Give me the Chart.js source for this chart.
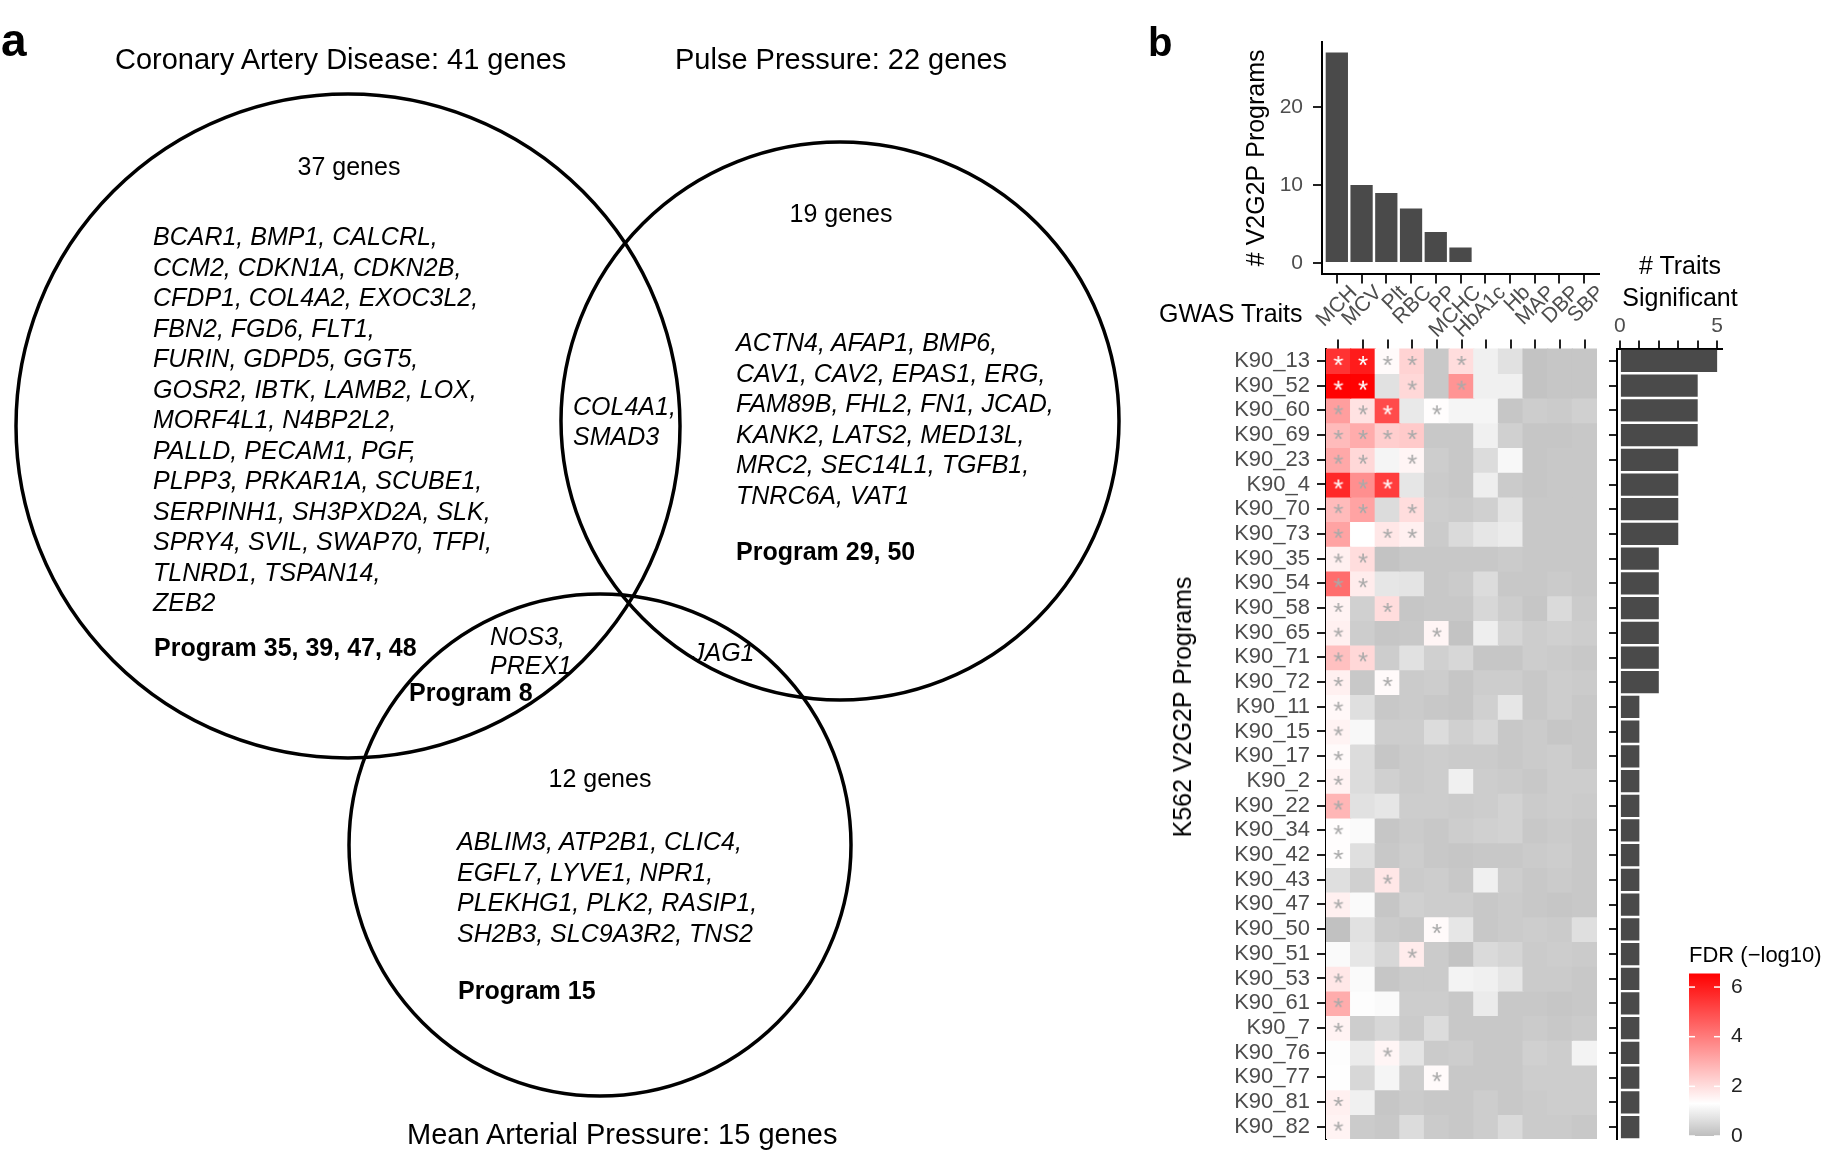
<!DOCTYPE html>
<html>
<head>
<meta charset="utf-8">
<script src="https://cdn.jsdelivr.net/npm/chart.js@4.4.1/dist/chart.umd.min.js"></script>
<style>
html,body{margin:0;padding:0;background:#fff;}
body{width:1824px;height:1156px;position:relative;overflow:hidden;font-family:'Liberation Sans',Arial,sans-serif;color:#000;}
.t{position:absolute;white-space:pre;}
.c{position:absolute;}
</style>
</head>
<body>
<canvas id="venn" class="c" width="1150" height="1156" style="left:0;top:0;width:1150px;height:1156px"></canvas>
<canvas id="topBar" class="c" width="380" height="310" style="left:1238px;top:30px;width:380px;height:310px"></canvas>
<canvas id="heat" class="c" width="445" height="820" style="left:1163px;top:330px;width:445px;height:820px"></canvas>
<canvas id="sideBar" class="c" width="140" height="850" style="left:1600px;top:300px;width:140px;height:850px"></canvas>
<canvas id="legendBar" class="c" width="135" height="217" style="left:1689px;top:939px;width:135px;height:217px"></canvas>
<script>
// ---------------- DATA ----------------
const vennSets = ['Coronary Artery Disease', 'Pulse Pressure', 'Mean Arterial Pressure'];
const vennSetSizes = [41, 22, 15];
const vennUniqueCounts = [37, 19, 12];
const cadOnlyGenes = [
  'BCAR1, BMP1, CALCRL,', 'CCM2, CDKN1A, CDKN2B,', 'CFDP1, COL4A2, EXOC3L2,',
  'FBN2, FGD6, FLT1,', 'FURIN, GDPD5, GGT5,', 'GOSR2, IBTK, LAMB2, LOX,',
  'MORF4L1, N4BP2L2,', 'PALLD, PECAM1, PGF,', 'PLPP3, PRKAR1A, SCUBE1,',
  'SERPINH1, SH3PXD2A, SLK,', 'SPRY4, SVIL, SWAP70, TFPI,', 'TLNRD1, TSPAN14,', 'ZEB2'
];
const ppOnlyGenes = [
  'ACTN4, AFAP1, BMP6,', 'CAV1, CAV2, EPAS1, ERG,', 'FAM89B, FHL2, FN1, JCAD,',
  'KANK2, LATS2, MED13L,', 'MRC2, SEC14L1, TGFB1,', 'TNRC6A, VAT1'
];
const mapOnlyGenes = [
  'ABLIM3, ATP2B1, CLIC4,', 'EGFL7, LYVE1, NPR1,', 'PLEKHG1, PLK2, RASIP1,', 'SH2B3, SLC9A3R2, TNS2'
];
const cadPpGenes = ['COL4A1,', 'SMAD3'];
const cadMapGenes = ['NOS3,', 'PREX1'];
const ppMapGenes = ['JAG1'];
const cadPrograms = 'Program 35, 39, 47, 48';
const ppPrograms = 'Program 29, 50';
const mapPrograms = 'Program 15';
const cadMapPrograms = 'Program 8';

const traits = ['MCH','MCV','Plt','RBC','PP','MCHC','HbA1c','Hb','MAP','DBP','SBP'];
const programCounts = [27, 10, 9, 7, 4, 2, 0, 0, 0, 0, 0];
const topTicks = [0, 10, 20];
const programs = ['K90_13','K90_52','K90_60','K90_69','K90_23','K90_4','K90_70','K90_73','K90_35','K90_54',
  'K90_58','K90_65','K90_71','K90_72','K90_11','K90_15','K90_17','K90_2','K90_22','K90_34','K90_42',
  'K90_43','K90_47','K90_50','K90_51','K90_53','K90_61','K90_7','K90_76','K90_77','K90_81','K90_82'];
const traitsSignificant = [5,4,4,4,3,3,3,3,2,2,2,2,2,2,1,1,1,1,1,1,1,1,1,1,1,1,1,1,1,1,1,1];
const sideTicks = [0, 1, 2, 3, 4, 5];
const sideTickLabels = [0, 5];
// FDR (-log10) per program (rows) x trait (columns)
const fdr = [
  [5.5, 6.0, 1.4, 2.2, 0.2, 2.0, 1.0, 0.7, 0.1, 0.15, 0.15],
  [6.5, 6.5, 0.7, 2.1, 0.2, 3.5, 1.0, 1.0, 0.1, 0.15, 0.15],
  [3.3, 1.9, 5.0, 0.85, 1.35, 1.1, 1.1, 0.15, 0.3, 0.25, 0.35],
  [2.7, 3.0, 2.3, 2.4, 0.2, 0.2, 1.0, 0.35, 0.15, 0.15, 0.2],
  [3.1, 2.1, 1.1, 1.5, 0.3, 0.2, 0.6, 1.15, 0.15, 0.2, 0.2],
  [5.7, 3.6, 5.3, 0.8, 0.25, 0.2, 0.95, 0.25, 0.15, 0.2, 0.2],
  [2.7, 3.2, 0.6, 2.0, 0.3, 0.25, 0.35, 0.75, 0.2, 0.2, 0.2],
  [3.2, 1.3, 1.8, 1.6, 0.25, 0.55, 0.8, 0.9, 0.2, 0.2, 0.2],
  [1.6, 2.0, 0.1, 0.2, 0.2, 0.2, 0.2, 0.25, 0.2, 0.2, 0.2],
  [4.3, 1.7, 0.8, 0.75, 0.2, 0.25, 0.6, 0.2, 0.2, 0.25, 0.2],
  [1.55, 0.35, 2.0, 0.15, 0.2, 0.2, 0.5, 0.3, 0.15, 0.55, 0.25],
  [1.6, 0.3, 0.15, 0.2, 1.5, 0.1, 0.95, 0.45, 0.3, 0.35, 0.3],
  [2.6, 2.1, 0.3, 0.7, 0.35, 0.5, 0.15, 0.15, 0.3, 0.25, 0.2],
  [1.6, 0.2, 1.4, 0.25, 0.3, 0.15, 0.3, 0.3, 0.2, 0.3, 0.25],
  [1.45, 0.65, 0.2, 0.25, 0.2, 0.15, 0.35, 0.8, 0.2, 0.3, 0.2],
  [1.55, 1.15, 0.3, 0.3, 0.6, 0.35, 0.5, 0.2, 0.25, 0.15, 0.2],
  [1.4, 0.6, 0.15, 0.25, 0.3, 0.25, 0.25, 0.2, 0.25, 0.3, 0.2],
  [1.55, 0.6, 0.35, 0.25, 0.3, 1.0, 0.3, 0.25, 0.2, 0.3, 0.3],
  [2.8, 0.7, 0.8, 0.3, 0.3, 0.25, 0.3, 0.4, 0.25, 0.3, 0.25],
  [1.35, 1.2, 0.15, 0.25, 0.2, 0.3, 0.35, 0.4, 0.2, 0.25, 0.2],
  [1.35, 0.65, 0.2, 0.3, 0.2, 0.15, 0.2, 0.2, 0.25, 0.3, 0.2],
  [0.65, 0.35, 1.8, 0.25, 0.3, 0.2, 1.0, 0.3, 0.2, 0.25, 0.2],
  [1.6, 1.2, 0.15, 0.35, 0.3, 0.3, 0.2, 0.25, 0.2, 0.15, 0.2],
  [0.05, 0.7, 0.25, 0.2, 1.4, 0.8, 0.2, 0.25, 0.3, 0.25, 0.65],
  [1.2, 0.8, 0.5, 1.7, 0.25, 0.1, 0.55, 0.45, 0.25, 0.3, 0.25],
  [1.8, 1.2, 0.15, 0.25, 0.25, 1.05, 1.0, 0.8, 0.25, 0.25, 0.2],
  [3.0, 1.25, 1.2, 0.3, 0.3, 0.2, 0.9, 0.2, 0.2, 0.15, 0.2],
  [1.55, 0.3, 0.5, 0.25, 0.6, 0.2, 0.2, 0.2, 0.25, 0.2, 0.25],
  [1.25, 0.9, 1.5, 0.75, 0.25, 0.3, 0.2, 0.2, 0.35, 0.3, 1.05],
  [1.28, 0.5, 1.1, 0.3, 1.4, 0.2, 0.2, 0.2, 0.3, 0.3, 0.3],
  [1.6, 1.0, 0.15, 0.25, 0.2, 0.2, 0.3, 0.2, 0.25, 0.3, 0.3],
  [1.55, 0.25, 0.2, 0.6, 0.25, 0.2, 0.3, 0.55, 0.25, 0.25, 0.2]
];
// significant cells (column indices per program row)
const significant = [
  [0,1,2,3,5],[0,1,3,5],[0,1,2,4],[0,1,2,3],[0,1,3],[0,1,2],[0,1,3],[0,2,3],
  [0,1],[0,1],[0,2],[0,4],[0,1],[0,2],
  [0],[0],[0],[0],[0],[0],[0],[2],[0],[4],[3],[0],[0],[0],[2],[4],[0],[0]
];
const legendTicks = [0, 2, 4, 6];
const fdrMax = 6.55;

// ---------------- STYLE / LAYOUT ----------------
const FONT = "'Liberation Sans', Arial, sans-serif";
Chart.defaults.font.family = FONT;
const GRAY = [190,190,190], WHITE = [255,255,255], RED = [255,0,0];
const FDR_MID = 1.3;
function mix(a, b, t){ return a.map((v,i)=>Math.round(v + (b[i]-v)*t)); }
function fdrColor(v){
  let c;
  if (v <= FDR_MID) c = mix(GRAY, WHITE, Math.max(0, v) / FDR_MID);
  else c = mix(WHITE, RED, Math.min(1, (v - FDR_MID) / (fdrMax - FDR_MID)));
  return `rgb(${c[0]},${c[1]},${c[2]})`;
}
const common = {responsive:false, animation:false, events:[], devicePixelRatio:1,
  plugins:{legend:{display:false}, tooltip:{enabled:false}}};
function noPad(s){ s.paddingTop = 0; s.paddingBottom = 0; s.paddingLeft = 0; s.paddingRight = 0; }

// ---------------- TEXT (HTML) ----------------
function addText(lines, o){
  const d = document.createElement('div');
  d.className = 't';
  d.textContent = lines.join('\n');
  const fs = o.size || 25;
  d.style.fontSize = fs + 'px';
  d.style.lineHeight = (o.lh || Math.round(fs*1.2)) + 'px';
  if (o.italic) d.style.fontStyle = 'italic';
  if (o.bold) d.style.fontWeight = 'bold';
  d.style.top = o.top + 'px';
  if (o.center !== undefined){ d.style.left = (o.center - 200) + 'px'; d.style.width = '400px'; d.style.textAlign = 'center'; }
  else d.style.left = o.left + 'px';
  if (o.rotate){ d.style.left = o.cx + 'px'; d.style.top = o.cy + 'px'; d.style.transform = 'translate(-50%,-50%) rotate(-90deg)'; }
  document.body.appendChild(d);
}
addText(['a'], {size:46, bold:true, left:1, top:13, lh:55});
addText([`${vennSets[0]}: ${vennSetSizes[0]} genes`], {size:29, left:115, top:42});
addText([`${vennSets[1]}: ${vennSetSizes[1]} genes`], {size:29, left:675, top:42});
addText([`${vennSets[2]}: ${vennSetSizes[2]} genes`], {size:29, left:407, top:1117});
addText([`${vennUniqueCounts[0]} genes`], {center:349, top:151});
addText([`${vennUniqueCounts[1]} genes`], {center:841, top:198});
addText([`${vennUniqueCounts[2]} genes`], {center:600, top:763});
addText(cadOnlyGenes, {italic:true, lh:30.5, left:153, top:221});
addText([cadPrograms], {bold:true, left:154, top:632});
addText(cadPpGenes, {italic:true, lh:30, left:573, top:391});
addText(ppOnlyGenes, {italic:true, lh:30.5, left:736, top:327});
addText([ppPrograms], {bold:true, left:736, top:536});
addText(cadMapGenes, {italic:true, lh:29, left:490, top:622});
addText([cadMapPrograms], {bold:true, left:409, top:677});
addText(ppMapGenes, {italic:true, left:692, top:637});
addText(mapOnlyGenes, {italic:true, lh:30.5, left:457, top:826});
addText([mapPrograms], {bold:true, left:458, top:975});

addText(['b'], {size:40, bold:true, left:1148, top:18, lh:48});
addText(['GWAS Traits'], {left:1159, top:298});
addText(['# Traits', 'Significant'], {center:1680, top:249, lh:32});
addText(['K562 V2G2P Programs'], {rotate:true, cx:1182, cy:707});

// ---------------- VENN ----------------
const vennCircles = [
  {x:348, y:426, rad:332},
  {x:840, y:421, rad:279},
  {x:600, y:845, rad:251}
];
function circleRadius(ctx){
  const d = ctx.raw;
  if (!d || !ctx.chart.scales || !ctx.chart.scales.x) return 0;
  const xs = ctx.chart.scales.x;
  return Math.abs(xs.getPixelForValue(d.x + d.rad) - xs.getPixelForValue(d.x));
}
new Chart(document.getElementById('venn'), {
  type:'scatter',
  data:{datasets:[{
    data: vennCircles,
    showLine:false,
    pointStyle:'circle',
    pointBackgroundColor:'rgba(0,0,0,0)', pointBorderColor:'#000', pointBorderWidth:3.5,
    pointRadius: circleRadius, pointHoverRadius: circleRadius,
    clip:false
  }]},
  options:Object.assign({}, common, {
    layout:{padding:0},
    scales:{
      x:{type:'linear', min:0, max:1150, display:false},
      y:{type:'linear', min:0, max:1156, reverse:true, display:false}
    }
  })
});

// ---------------- TOP BAR ----------------
new Chart(document.getElementById('topBar'), {
  type:'bar',
  data:{datasets:[{
    data: traits.map((t,i)=>({x:i+1, y:programCounts[i]})),
    backgroundColor:'#4a4a4a', barPercentage:0.9, categoryPercentage:1,
    borderWidth: ctx => (ctx.raw && ctx.raw.y === 0) ? 1 : 0, borderColor:'#d8d8d8', borderSkipped:false
  }]},
  options:Object.assign({}, common, {
    layout:{padding:{left:0, top:12, right:19, bottom:0}},
    scales:{
      x:{type:'linear', min:0.4, max:11.6, offset:false,
        afterBuildTicks: s => { s.ticks = traits.map((_,i)=>({value:i+1})); },
        afterFit: s => { s.height = 66.4; noPad(s); },
        ticks:{autoSkip:false, minRotation:45, maxRotation:45, color:'#4d4d4d', font:{size:21}, padding:-3, labelOffset:17,
          callback: v => traits[Math.round(v)-1]},
        grid:{display:true, drawOnChartArea:false, drawTicks:true, tickLength:10, color:'#222', lineWidth:2, offset:false},
        border:{display:true, color:'#000', width:2}},
      y:{type:'linear', min:-1.35, max:28.35,
        afterBuildTicks: s => { s.ticks = topTicks.map(v=>({value:v})); },
        afterFit: s => { s.width = 84; noPad(s); },
        ticks:{color:'#4d4d4d', font:{size:21}, padding:10},
        grid:{drawOnChartArea:false, drawTicks:true, tickLength:9, color:'#222', lineWidth:2},
        border:{display:true, color:'#000', width:2},
        title:{display:true, text:'# V2G2P Programs', color:'#000', font:{size:25}, padding:{top:4, bottom:4}}}
    }
  })
});

// ---------------- HEATMAP ----------------
function makeStar(color){
  const c = document.createElement('canvas'); c.width = 24; c.height = 24;
  const g = c.getContext('2d');
  g.font = "26px " + FONT;
  g.fillStyle = color; g.textAlign = 'center'; g.textBaseline = 'alphabetic';
  const m = g.measureText('*');
  const mid = (m.actualBoundingBoxAscent - m.actualBoundingBoxDescent) / 2;
  g.fillText('*', 12, 12 + mid);
  return c;
}
const starGray = makeStar('#a9a9a9');
const starWhite = makeStar('#ffffff');
const cellSets = programs.map((p, i) => ({
  type:'bar',
  data: traits.map(() => [i - 0.5, i + 0.5]),
  backgroundColor: fdr[i].map(fdrColor),
  grouped:false, barPercentage:1, categoryPercentage:1, borderWidth:0, inflateAmount:0.6, order:1
}));
const starSet = {
  type:'scatter',
  data: significant.flatMap((cols, i) => cols.map(j => ({x:traits[j], y:i, v:fdr[i][j]}))),
  pointStyle: ctx => (ctx.raw && ctx.raw.v > 4.6) ? starWhite : starGray,
  pointRadius:10, order:0
};
new Chart(document.getElementById('heat'), {
  type:'bar',
  data:{labels:traits, datasets:[...cellSets, starSet]},
  options:Object.assign({}, common, {
    layout:{padding:{left:0, top:0, right:9.6, bottom:10.6}},
    scales:{
      x:{type:'category', position:'top', offset:true,
        afterFit: s => { s.height = 18.6; noPad(s); },
        ticks:{display:false},
        grid:{display:true, drawOnChartArea:false, drawTicks:true, tickLength:9, color:'#222', lineWidth:2, offset:false},
        border:{display:false}},
      y:{type:'linear', reverse:true, min:-0.5, max:programs.length - 0.5,
        afterBuildTicks: s => { s.ticks = programs.map((_,i)=>({value:i})); },
        afterFit: s => { s.width = 163; noPad(s); },
        ticks:{autoSkip:false, color:'#4d4d4d', font:{size:22}, padding:7, callback: v => programs[Math.round(v)]},
        grid:{drawOnChartArea:false, drawTicks:true, tickLength:9, color:'#222', lineWidth:2},
        border:{display:true, color:'#000', width:2}}
    }
  })
});

// ---------------- SIDE BAR ----------------
new Chart(document.getElementById('sideBar'), {
  type:'bar',
  data:{labels:programs, datasets:[{data:traitsSignificant, backgroundColor:'#4a4a4a', barPercentage:0.9, categoryPercentage:1, borderWidth:0}]},
  options:Object.assign({}, common, {
    indexAxis:'y',
    layout:{padding:{left:0, top:0, right:18, bottom:10.6}},
    scales:{
      x:{type:'linear', position:'top', min:-0.15, max:5.25,
        afterBuildTicks: s => { s.ticks = sideTicks.map(v=>({value:v})); },
        afterFit: s => { s.height = 48.6; noPad(s); },
        ticks:{color:'#4d4d4d', font:{size:21}, padding:2, callback: v => sideTickLabels.includes(v) ? String(v) : ''},
        grid:{drawOnChartArea:false, drawTicks:true, tickLength:8, color:'#222', lineWidth:2},
        border:{display:true, color:'#000', width:2}},
      y:{type:'category', offset:true,
        afterFit: s => { s.width = 17; noPad(s); },
        ticks:{display:false},
        grid:{drawOnChartArea:false, drawTicks:true, tickLength:8, color:'#222', lineWidth:2, offset:false},
        border:{display:true, color:'#000', width:2}}
    }
  })
});

// ---------------- COLOUR LEGEND ----------------
const colorbarTicks = {
  id:'colorbarTicks',
  afterDatasetsDraw(chart){
    const ys = chart.scales.y, ca = chart.chartArea, g = chart.ctx;
    g.save(); g.strokeStyle = '#fff'; g.lineWidth = 1.5;
    legendTicks.forEach(v => {
      const y = ys.getPixelForValue(v);
      g.beginPath(); g.moveTo(ca.right - 6, y); g.lineTo(ca.right, y); g.stroke();
      g.beginPath(); g.moveTo(ca.left, y); g.lineTo(ca.left + 6, y); g.stroke();
    });
    g.restore();
  }
};
new Chart(document.getElementById('legendBar'), {
  type:'bar',
  data:{labels:[''], datasets:[{
    data:[fdrMax], barPercentage:1, categoryPercentage:1, borderWidth:0,
    backgroundColor: ctx => {
      const ch = ctx.chart; if (!ch.chartArea) return '#ccc';
      const ys = ch.scales.y;
      const g = ch.ctx.createLinearGradient(0, ys.getPixelForValue(0), 0, ys.getPixelForValue(fdrMax));
      for (let k = 0; k <= 20; k++){ const v = fdrMax * k / 20; g.addColorStop(k/20, fdrColor(v)); }
      g.addColorStop(FDR_MID/fdrMax, fdrColor(FDR_MID));
      return g;
    }
  }]},
  plugins:[colorbarTicks],
  options:Object.assign({}, common, {
    layout:{padding:{left:0, top:0, right:0, bottom:20}},
    plugins:{legend:{display:false}, tooltip:{enabled:false},
      title:{display:true, text:'FDR (\u2212log10)', align:'start', color:'#000', font:{size:22, weight:'normal'}, padding:{top:4, bottom:4}}},
    scales:{
      x:{display:false},
      y:{position:'right', min:0, max:fdrMax,
        afterBuildTicks: s => { s.ticks = legendTicks.map(v=>({value:v})); },
        afterFit: s => { s.width = 104; noPad(s); },
        ticks:{color:'#222', font:{size:21}, padding:11},
        grid:{display:false, drawTicks:false},
        border:{display:false}}
    }
  })
});
</script>
</body>
</html>
